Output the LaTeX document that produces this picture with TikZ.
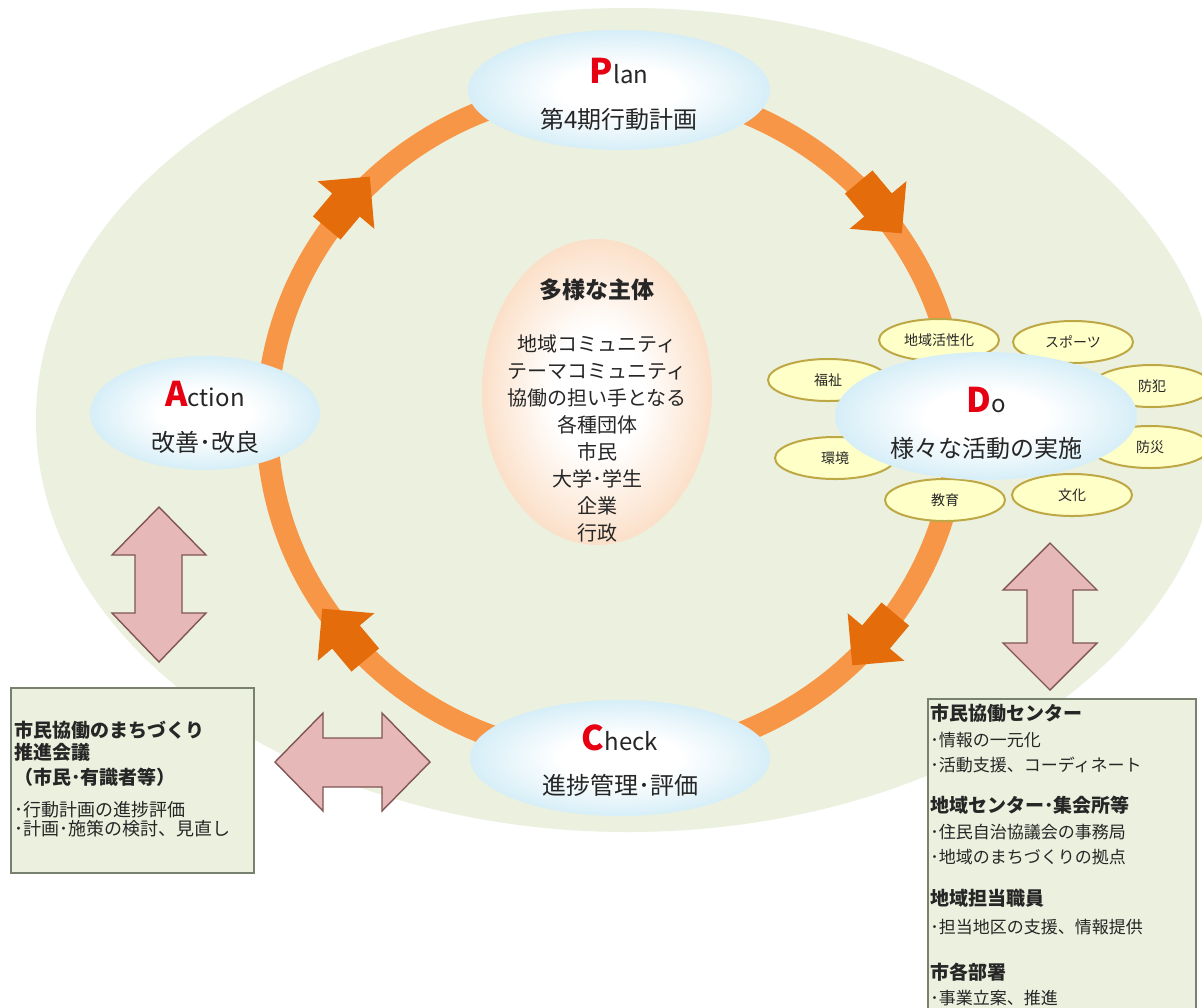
\documentclass[tikz,border=0pt]{standalone}
\usepackage{fontspec}
\setmainfont{Noto Sans CJK JP}
\usetikzlibrary{shapes.geometric,calc}
\definecolor{bggreen}{RGB}{235,241,222}
\definecolor{ringorange}{RGB}{247,150,70}
\definecolor{ringdark}{RGB}{228,108,10}
\definecolor{bluemid}{RGB}{190,228,243}
\definecolor{blueedge}{RGB}{118,196,228}
\definecolor{orangemid}{RGB}{249,205,168}
\definecolor{orangeedge}{RGB}{242,158,98}
\definecolor{petalin}{RGB}{255,255,200}
\definecolor{petalout}{RGB}{255,242,125}
\definecolor{petalborder}{RGB}{190,168,70}
\definecolor{pinkfill}{RGB}{230,185,184}
\definecolor{pinkborder}{RGB}{130,85,85}
\definecolor{boxfill}{RGB}{235,241,222}
\definecolor{boxborder}{RGB}{120,128,110}
\definecolor{txtgray}{RGB}{38,38,38}
\definecolor{pdcared}{RGB}{230,0,18}
\pgfdeclareradialshading{blueglow}{\pgfpoint{0bp}{0bp}}{color(0bp)=(white); color(10bp)=(white); color(34bp)=(bluemid); color(50bp)=(blueedge); color(100bp)=(blueedge)}
\pgfdeclareradialshading{orangeglow}{\pgfpoint{0bp}{0bp}}{color(0bp)=(white); color(10bp)=(white); color(34bp)=(orangemid); color(50bp)=(orangeedge); color(100bp)=(orangeedge)}
\pgfdeclareradialshading{petalglow}{\pgfpoint{0bp}{0bp}}{color(0bp)=(petalin); color(28bp)=(petalin); color(50bp)=(petalout); color(100bp)=(petalout)}
\newcommand\pdcaletter[1]{{\color{pdcared}\fontsize{17}{20}\selectfont\bfseries #1}}
\newcommand\pdcarest{\fontsize{12}{14}\selectfont}
\newcommand\boxbold{\fontsize{9.5}{11}\selectfont\bfseries}
\newcommand\lboxnorm{\fontsize{9}{10}\selectfont}
\newcommand\rboxnorm{\fontsize{8.5}{10}\selectfont}
\tikzset{
  txt/.style={inner sep=0pt, text=txtgray},
  blueell/.style={ellipse, shade, shading=blueglow, inner sep=0pt, draw=none},
  petal/.style={ellipse, shade, shading=petalglow, draw=petalborder, line width=1pt,
    minimum width=60pt, minimum height=21pt, inner sep=0pt,
    font=\fontsize{7}{8}\selectfont, text=txtgray},
  pinkarrow/.style={fill=pinkfill, draw=pinkborder, line width=0.7pt, line join=miter},
  infobox/.style={rectangle, fill=boxfill, draw=boxborder, line width=0.8pt, inner sep=0pt, anchor=north west},
  lboxline/.style={txt, anchor=west},
}
\begin{document}
\begin{tikzpicture}[x=0.5pt,y=-0.5pt]
\useasboundingbox (0,0) rectangle (1202,1007);
\clip (0,0) rectangle (1202,1007);
\fill[white] (0,0) rectangle (1202,1007);
% background ellipse
\coordinate (bgc) at (628,420);
\fill[bggreen] (bgc) ellipse [x radius=592, y radius=412];
% ring
\coordinate (ringc) at (612,422);
\draw[ringorange, line width=11pt] (ringc) ellipse [x radius=345, y radius=335];
\foreach \px/\py/\ang in {346/205/50, 878/205/-50, 876/637/-130, 346/637/130} {
  \fill[ringdark, shift={(\px,\py)}, rotate=\ang]
    (37,0) -- (0,37) -- (0,18) -- (-30,18) -- (-30,-18) -- (0,-18) -- (0,-37) -- cycle;
}
% centre ellipse
\node[ellipse, shade, shading=orangeglow, inner sep=0pt, minimum width=115pt, minimum height=153pt] (actors) at (597,392) {};
\node[txt, font=\fontsize{11.5}{13}\selectfont\bfseries] (actorstitle) at (597,290) {多様な主体};
\node[txt, align=center, font=\fontsize{10}{13.5}\selectfont] (actorlist) at (597,438)
  {地域コミュニティ\\テーマコミュニティ\\協働の担い手となる\\各種団体\\市民\\大学･学生\\企業\\行政};
% petals
\node[petal] (p1) at (939,340) {地域活性化};
\node[petal] (p2) at (1073,342) {スポーツ};
\node[petal] (p3) at (828,380) {福祉};
\node[petal] (p4) at (1152,386) {防犯};
\node[petal] (p5) at (835,458) {環境};
\node[petal] (p6) at (1150,447) {防災};
\node[petal] (p7) at (945,500) {教育};
\node[petal] (p8) at (1072,495) {文化};
% PDCA ellipses
\node[blueell, minimum width=151pt, minimum height=60pt] (plan) at (619,90) {};
\node[blueell, minimum width=115pt, minimum height=57pt] (action) at (205,413) {};
\node[blueell, minimum width=151pt, minimum height=64pt] (do) at (986,416) {};
\node[blueell, minimum width=150pt, minimum height=58pt] (check) at (620,758) {};
\node[txt] (plant) at ($(plan)+(0,-19)$) {\pdcaletter{P}\pdcarest lan};
\node[txt, font=\pdcarest] (plans) at ($(plan)+(0,29)$) {第4期行動計画};
\node[txt] (actiont) at ($(action)+(0,-19)$) {\pdcaletter{A}\pdcarest ction};
\node[txt, font=\pdcarest] (actions) at ($(action)+(0,29)$) {改善･改良};
\node[txt] (dot) at ($(do)+(0,-16)$) {\pdcaletter{D}\pdcarest o};
\node[txt, font=\pdcarest] (dos) at ($(do)+(0,32)$) {様々な活動の実施};
\node[txt] (checkt) at ($(check)+(0,-20)$) {\pdcaletter{C}\pdcarest heck};
\node[txt, font=\pdcarest] (checks) at ($(check)+(0,27)$) {進捗管理･評価};
% pink double arrows
\draw[pinkarrow] (159,507) -- (206,555) -- (182,555) -- (182,613) -- (206,613) -- (159,662)
  -- (112,613) -- (135,613) -- (135,555) -- (112,555) -- cycle;
\draw[pinkarrow] (1050,543) -- (1097,590) -- (1073,590) -- (1073,643) -- (1097,643) -- (1050,690)
  -- (1003,643) -- (1027,643) -- (1027,590) -- (1003,590) -- cycle;
\draw[pinkarrow] (275,762) -- (323,713) -- (323,738) -- (382,738) -- (382,713) -- (430,762)
  -- (382,811) -- (382,787) -- (323,787) -- (323,811) -- cycle;
% left box
\node[infobox, minimum width=121.5pt, minimum height=92.5pt] (lbox) at (10,687) {};
\node[lboxline, font=\boxbold] (lb1) at (14,730) {市民協働のまちづくり};
\node[lboxline, font=\boxbold] (lb2) at (14,752) {推進会議};
\node[lboxline, font=\boxbold] (lb3) at (14,777) {（市民･有識者等）};
\node[lboxline, font=\lboxnorm] (lb4) at (14,810) {･行動計画の進捗評価};
\node[lboxline, font=\lboxnorm] (lb5) at (14,829) {･計画･施策の検討、見直し};
% right box
\node[infobox, minimum width=134pt, minimum height=160pt] (rbox) at (927,698) {};
\node[lboxline, font=\boxbold] (rb1) at (930,713) {市民協働センター};
\node[lboxline, font=\rboxnorm] (rb2) at (930,740) {･情報の一元化};
\node[lboxline, font=\rboxnorm] (rb3) at (930,765) {･活動支援、コーディネート};
\node[lboxline, font=\boxbold] (rb4) at (930,805) {地域センター･集会所等};
\node[lboxline, font=\rboxnorm] (rb5) at (930,832) {･住民自治協議会の事務局};
\node[lboxline, font=\rboxnorm] (rb6) at (930,857) {･地域のまちづくりの拠点};
\node[lboxline, font=\boxbold] (rb7) at (930,898) {地域担当職員};
\node[lboxline, font=\rboxnorm] (rb8) at (930,927) {･担当地区の支援、情報提供};
\node[lboxline, font=\boxbold] (rb9) at (930,972) {市各部署};
\node[lboxline, font=\rboxnorm] (rb10) at (930,998) {･事業立案、推進};
\end{tikzpicture}
\end{document}
